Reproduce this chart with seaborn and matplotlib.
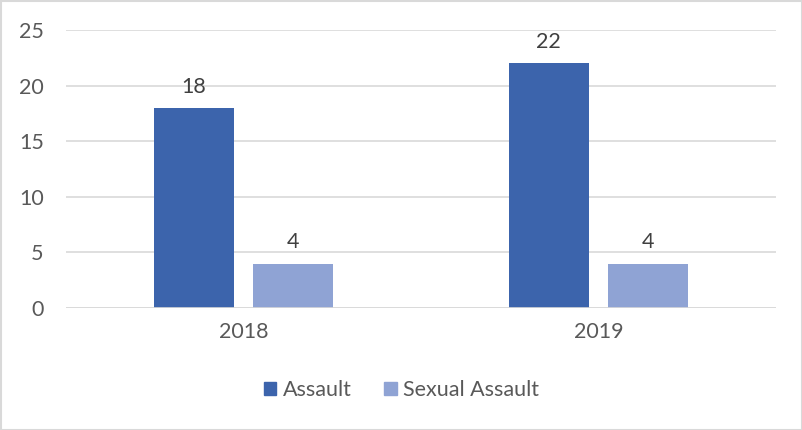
import pandas as pd
import seaborn as sns
from matplotlib import pyplot as plt
from matplotlib.patches import Rectangle

# chart data
years = ["2018", "2019"]
assault = [18, 22]
sexual_assault = [4, 4]
series_names = ["Assault", "Sexual Assault"]
colors = ["#3C64AC", "#8FA3D4"]

df = pd.DataFrame({
    "year": years * 2,
    "count": assault + sexual_assault,
    "type": [series_names[0]] * len(years) + [series_names[1]] * len(years),
})

sns.set_style("white")
plt.rcParams["font.family"] = ["Lato", "DejaVu Sans"]
text_col = "#595959"

fig = plt.figure(figsize=(8.03, 4.3), dpi=100)
ax = fig.add_axes([66 / 803, 1 - 308 / 430, 710 / 803, 278 / 430])

sns.barplot(data=df, x="year", y="count", hue="type", palette=colors,
            saturation=1, width=0.563, gap=0.2, ax=ax, legend=False,
            edgecolor="none", zorder=3)

for c in ax.containers:
    ax.bar_label(c, padding=8, fontsize=15.5, color="#404040")

ax.set_ylim(0, 25)
ax.set_yticks(range(0, 26, 5))
ax.yaxis.grid(True, color="#D9D9D9", linewidth=1.2, zorder=0)
ax.set_axisbelow(True)
for s in ax.spines.values():
    s.set_visible(False)
ax.axhline(0, color="#D9D9D9", linewidth=1.2, zorder=4)
ax.tick_params(axis="both", length=0, labelsize=15.5, labelcolor=text_col)
ax.tick_params(axis="y", pad=16)
ax.tick_params(axis="x", pad=10)
ax.set_xlabel("")
ax.set_ylabel("")

handles = [Rectangle((0, 0), 1, 1, color=c) for c in colors]
fig.legend(handles, series_names, loc="center", bbox_to_anchor=(0.5, 1 - 390 / 430),
           ncol=2, frameon=False, fontsize=15.5, labelcolor=text_col,
           handlelength=0.6, handleheight=0.6, handletextpad=0.3, columnspacing=1.5)

fig.patches.append(Rectangle((0.5 / 803, 0.5 / 430), 1 - 1.5 / 803, 1 - 1.5 / 430,
                             transform=fig.transFigure, fill=False,
                             edgecolor="#D9D9D9", linewidth=1.5))

fig.savefig("out.png", dpi=100)
